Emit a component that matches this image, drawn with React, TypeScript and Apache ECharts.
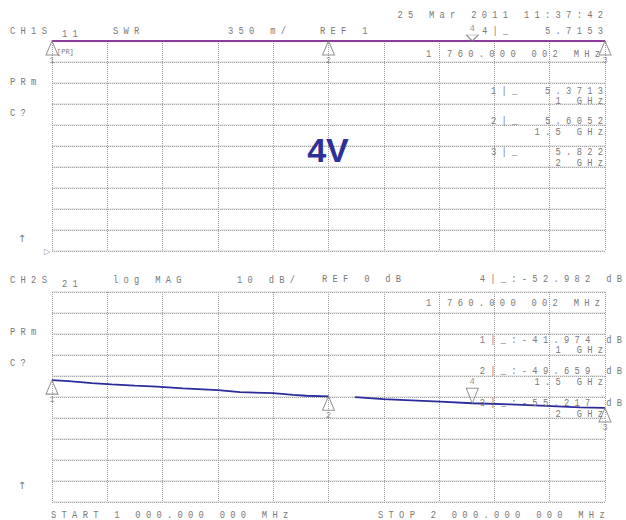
import React, { useEffect, useRef } from "react";
import * as echarts from "echarts";

// ---------- data ----------
const FREQ_START_MHZ = 1000;
const FREQ_STOP_MHZ = 2000;
const FREQ_STEP_MHZ = 100;
const DIVS = 10;

// CH1 : S11 SWR, 350 m/div, REF 1 (reference at bottom)
const SWR_REF = 1;
const SWR_PER_DIV = 0.35;
const swrFreqs = [1000, 1500, 1760, 2000];
const swrValues = [5.3713, 5.6052, 5.7153, 5.822];
const swrReadouts = ["5.3713", "5.6052", "5.822"];
const swrActive = "5.7153";

// CH2 : S21 log MAG, 10 dB/div, REF 0 dB (reference at top)
const DB_REF = 0;
const DB_PER_DIV = 10;
const s21Freqs = [1000, 1030, 1072, 1108, 1150, 1190, 1237, 1300, 1340, 1400, 1436, 1460, 1500, 1525, 1548, 1599, 1650, 1702, 1760, 1829, 1883, 1955, 2000];
const s21Values: (number | null)[] = [-41.97, -42.4, -43.4, -44.0, -44.6, -45.1, -45.9, -46.7, -47.7, -48.2, -49.0, -49.4, -49.66, null, -50.1, -51.0, -51.6, -52.2, -52.98, -53.5, -54.1, -54.9, -55.22];

// markers
const markerNames = ["1", "2", "3", "4"];
const markerFreqs = [1000, 1500, 2000, 1760];
const markerFreqLabels = ["1 GHz", "1.5 GHz", "2 GHz"];
const markerSwr = [5.3713, 5.6052, 5.822, 5.7153];
const markerS21 = [-41.974, -49.659, -55.217, -52.982];

// header texts
const dateText = "25 Mar 2011 11:37:42";
const markerFreqText = "1 760.000 002 MHz";
const startText = "START 1 000.000 000 MHz";
const stopText = "STOP 2 000.000 000 MHz";

// ---------- helpers ----------
const MONO = '"Liberation Mono", "DejaVu Sans Mono", monospace';
const GRAY = "#7a7a7a";
const spaced = (s: string) => s.split("").join(" ");

function txt(text: string, x: number, y: number, align: "left" | "right" | "center" = "left", extra: any = {}) {
  return {
    type: "text",
    x,
    y,
    scaleY: 1.3,
    silent: true,
    z: 10,
    style: {
      text: spaced(text),
      fontFamily: MONO,
      fontSize: 8.8,
      fill: GRAY,
      align,
      textAlign: align,
      verticalAlign: "middle",
      textVerticalAlign: "middle",
      ...extra,
    },
  };
}

const downTri = "path://M0,0 L10,0 L5,12 Z";

export default function App() {
  const ref = useRef<HTMLDivElement>(null);

  useEffect(() => {
    if (!ref.current) return;
    const chart = echarts.init(ref.current, undefined, { renderer: "svg" });
    const swrTop = SWR_REF + DIVS * SWR_PER_DIV;
    const clampSwr = (v: number) => Math.min(v, swrTop);

    const xAx = (gi: number) => ({
      gridIndex: gi,
      type: "value",
      min: FREQ_START_MHZ,
      max: FREQ_STOP_MHZ,
      interval: FREQ_STEP_MHZ,
      axisLine: { show: false },
      axisTick: { show: false },
      axisLabel: { show: false },
      splitLine: { show: true, lineStyle: { color: "#9c9c9c", type: "dotted", width: 1 } },
    });
    const yGrid = (gi: number, min: number, max: number, interval: number, light: boolean) => ({
      gridIndex: gi,
      type: "value",
      min,
      max,
      interval,
      axisLine: { show: false },
      axisTick: { show: false },
      axisLabel: { show: false },
      splitLine: {
        show: true,
        lineStyle: light
          ? { color: "#e2e2e2", type: "solid", width: 1.6 }
          : { color: "#a4a4a4", type: "dotted", width: 1 },
      },
    });

    const markerStyle = {
      color: "rgba(255,255,255,0)",
      borderColor: "#777",
      borderWidth: 1,
    };
    const markerLabel = (position: string) => ({
      show: true,
      position,
      distance: 1,
      formatter: "{b}",
      color: GRAY,
      fontFamily: MONO,
      fontSize: 9,
    });

    const upIdx = [0, 1, 2];

    const graphic: any[] = [
      // top panel texts
      txt(dateText, 603, 15, "right"),
      txt("CH1S", 10, 31),
      txt("11", 62, 34),
      txt("SWR", 113, 31),
      txt(`${Math.round(SWR_PER_DIV * 1000)} m/`, 228, 31),
      txt(`REF ${SWR_REF}`, 320, 31),
      txt("4|_", 482, 31),
      txt(swrActive, 603, 31, "right"),
      { type: "text", x: 57, y: 52, silent: true, style: { text: "[PR]", fontFamily: MONO, fontSize: 7, fill: GRAY, verticalAlign: "middle", textVerticalAlign: "middle" } },
      txt(markerFreqText, 600, 54, "right"),
      txt("PRm", 10, 82),
      txt("C?", 10, 113),
      ...upIdx.flatMap((i) => [
        txt(`${markerNames[i]}|_`, 491, 91 + i * 30.5),
        txt(swrReadouts[i], 603, 91 + i * 30.5, "right"),
        txt(markerFreqLabels[i], 603, 101 + i * 31, "right"),
      ]),
      { type: "text", x: 22, y: 238, silent: true, style: { text: "↑", fontFamily: '"DejaVu Sans"', fontSize: 10, fill: GRAY, align: "center", textAlign: "center", verticalAlign: "middle", textVerticalAlign: "middle" } },
      { type: "text", x: 47, y: 251, silent: true, style: { text: "▷", fontFamily: '"DejaVu Sans"', fontSize: 8, fill: "#999", align: "center", textAlign: "center", verticalAlign: "middle", textVerticalAlign: "middle" } },
      { type: "text", x: 328, y: 150, silent: true, z: 11, style: { text: "4V", fontFamily: '"Liberation Sans", Arial, sans-serif', fontWeight: "bold", fontSize: 34, fill: "#2f2f98", align: "center", textAlign: "center", verticalAlign: "middle", textVerticalAlign: "middle" } },
      // lower panel texts
      txt("CH2S", 10, 280),
      txt("21", 62, 284),
      txt("log MAG", 113, 280),
      txt(`${DB_PER_DIV} dB/`, 237, 280),
      txt(`REF ${DB_REF} dB`, 322, 279),
      txt(`4|_:${markerS21[3].toFixed(3)} dB`, 622, 279, "right"),
      txt(markerFreqText, 600, 303, "right"),
      txt("PRm", 10, 332),
      txt("C?", 10, 363),
      ...upIdx.flatMap((i) => [
        txt(`${markerNames[i]}|_:${markerS21[i].toFixed(3)} dB`, 622, 340 + i * 31.5, "right"),
        txt(markerFreqLabels[i], 603, 350 + i * 32, "right"),
      ]),
      { type: "text", x: 22, y: 485, silent: true, style: { text: "↑", fontFamily: '"DejaVu Sans"', fontSize: 10, fill: GRAY, align: "center", textAlign: "center", verticalAlign: "middle", textVerticalAlign: "middle" } },
      txt(startText, 51, 515),
      txt(stopText, 378, 515),
    ];

    const option: any = {
      animation: false,
      backgroundColor: "#ffffff",
      grid: [
        { left: 52, top: 41, width: 553, height: 210 },
        { left: 52, top: 292, width: 553, height: 210 },
      ],
      xAxis: [xAx(0), xAx(1)],
      yAxis: [
        yGrid(0, 0, DIVS, 1, true),
        yGrid(0, 0, DIVS, 1, false),
        {
          gridIndex: 0,
          type: "value",
          min: SWR_REF,
          max: swrTop,
          show: false,
          splitLine: { show: false },
        },
        yGrid(1, DB_REF - DIVS * DB_PER_DIV, DB_REF, DB_PER_DIV, true),
        yGrid(1, DB_REF - DIVS * DB_PER_DIV, DB_REF, DB_PER_DIV, false),
      ],
      graphic,
      series: [
        {
          type: "line",
          xAxisIndex: 0,
          yAxisIndex: 2,
          data: swrFreqs.map((f, i) => [f, clampSwr(swrValues[i])]),
          showSymbol: false,
          clip: false,
          lineStyle: { color: "#8e3a9e", width: 2 },
          z: 5,
        },
        {
          type: "line",
          xAxisIndex: 1,
          yAxisIndex: 3,
          data: s21Freqs.map((f, i) => [f, s21Values[i]]),
          showSymbol: false,
          connectNulls: false,
          lineStyle: { color: "#2b2b9c", width: 1.8 },
          z: 5,
        },
        {
          type: "scatter",
          xAxisIndex: 0,
          yAxisIndex: 2,
          clip: false,
          symbol: "triangle",
          symbolSize: [12, 14],
          symbolOffset: [0, 7],
          itemStyle: markerStyle,
          label: markerLabel("bottom"),
          data: upIdx.map((i) => ({ name: markerNames[i], value: [markerFreqs[i], clampSwr(markerSwr[i])] })),
          z: 6,
        },
        {
          type: "scatter",
          xAxisIndex: 0,
          yAxisIndex: 2,
          clip: false,
          symbol: downTri,
          symbolSize: [12, 6],
          symbolOffset: [0, -3],
          itemStyle: markerStyle,
          label: markerLabel("top"),
          data: [{ name: markerNames[3], value: [markerFreqs[3], clampSwr(markerSwr[3])] }],
          z: 6,
        },
        {
          type: "scatter",
          xAxisIndex: 1,
          yAxisIndex: 3,
          clip: false,
          symbol: "triangle",
          symbolSize: [12, 14],
          symbolOffset: [0, 7],
          itemStyle: markerStyle,
          label: markerLabel("bottom"),
          data: upIdx.map((i) => ({ name: markerNames[i], value: [markerFreqs[i], markerS21[i]] })),
          z: 6,
        },
        {
          type: "scatter",
          xAxisIndex: 1,
          yAxisIndex: 3,
          clip: false,
          symbol: downTri,
          symbolSize: [12, 15],
          symbolOffset: [0, -7.5],
          itemStyle: markerStyle,
          label: markerLabel("top"),
          data: [{ name: markerNames[3], value: [markerFreqs[3], markerS21[3]] }],
          z: 6,
        },
      ],
    };

    chart.setOption(option);
    return () => chart.dispose();
  }, []);

  return (
    <div
      ref={ref}
      style={{ position: "absolute", left: 0, top: 0, width: 626, height: 520, background: "#fff" }}
    />
  );
}
